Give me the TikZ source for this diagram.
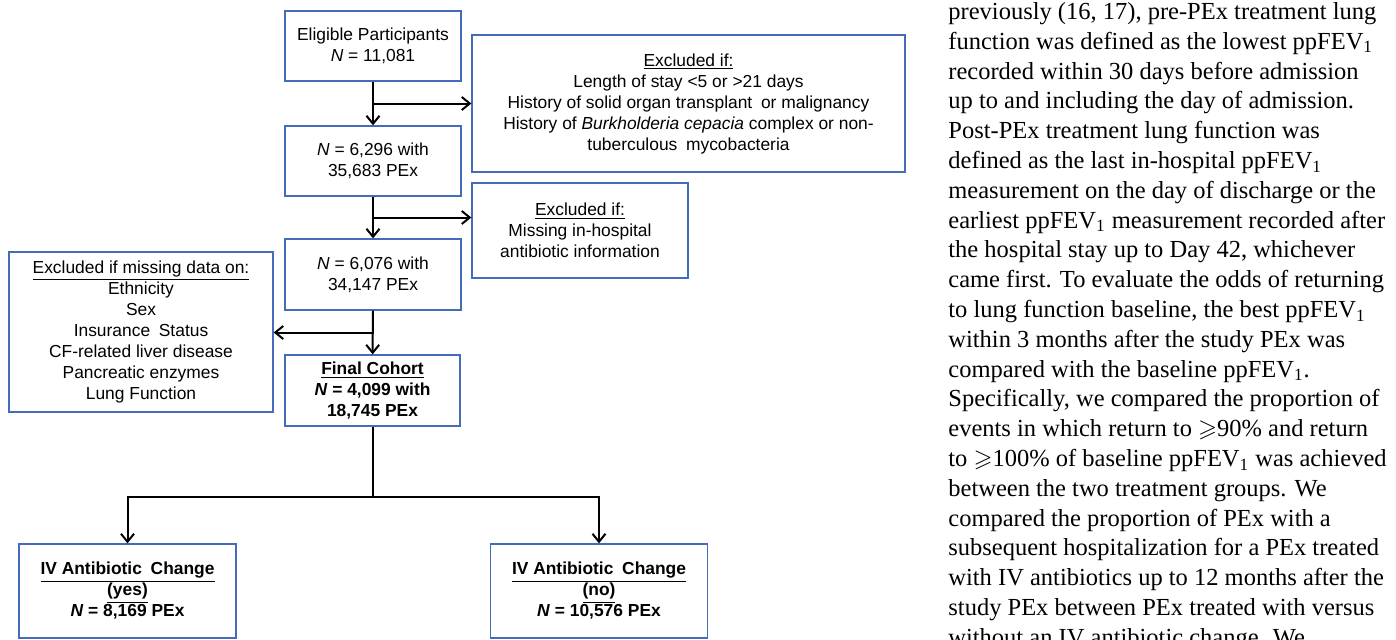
\documentclass[tikz,border=0pt]{standalone}
\usepackage{fontspec}
\setmainfont{Liberation Serif}
\setsansfont{Liberation Sans}
\usepackage{amssymb}
\usetikzlibrary{arrows.meta,positioning,calc}
\definecolor{boxblue}{RGB}{68,108,186}

\begin{document}
\begin{tikzpicture}[
  x=0.5pt, y=-0.5pt,
  box/.style={draw=boxblue, line width=0.65pt, align=center, inner sep=0pt, fill=white,
    font=\sffamily\fontsize{8.7}{10.5}\selectfont},
  boldbox/.style={box, font=\sffamily\bfseries\fontsize{8.7}{10.5}\selectfont},
  arrow/.style={-{Straight Barb[length=4pt,width=6.5pt]}, line width=1pt},
  link/.style={line width=1pt},
  body/.style={anchor=base west, inner sep=0pt, font=\fontsize{12.25}{14.9}\selectfont}
]
\useasboundingbox (0,0) rectangle (1396,639);

% main column
\node[box, minimum width=88pt, minimum height=35pt] (elig) at (373,46)
  {Eligible Participants\\\textit{N} = 11,081};
\node[box, minimum width=88pt, minimum height=35pt] (pex1) at (373,161)
  {\textit{N} = 6,296 with\\35,683 PEx};
\node[box, minimum width=88pt, minimum height=35.5pt] (pex2) at (373,274.5)
  {\textit{N} = 6,076 with\\34,147 PEx};
\node[boldbox, minimum width=87.5pt, minimum height=35.5pt] (final) at (372.5,390.5)
  {\underline{Final Cohort}\\\textit{N} = 4,099 with\\18,745 PEx};

% exclusions
\node[box, minimum width=216.5pt, minimum height=68.5pt] (excl1) at (688.5,103.5)
  {\underline{Excluded if:}\\Length of stay <5 or >21 days\\History of solid organ transplant\enspace or malignancy\\History of \textit{Burkholderia cepacia} complex or non-\\tuberculous\enspace mycobacteria};
\node[box, minimum width=108pt, minimum height=47.5pt] (excl2) at (580,230.5)
  {\underline{Excluded if:}\\Missing in-hospital\\antibiotic information};
\node[box, minimum width=132pt, minimum height=80pt] (excl3) at (141,332)
  {\underline{Excluded if missing data on:}\\Ethnicity\\Sex\\Insurance\enspace Status\\CF-related liver disease\\Pancreatic enzymes\\Lung Function};

% treatment groups
\node[boldbox, minimum width=108.5pt, minimum height=47pt] (yes) at (127.5,591)
  {\underline{IV Antibiotic\enspace Change}\\\underline{(yes)}\\\textit{N} = 8,169 PEx};
\node[boldbox, minimum width=108.5pt, minimum height=47pt] (no) at (599,591)
  {\underline{IV Antibiotic\enspace Change}\\\underline{(no)}\\\textit{N} = 10,576 PEx};

\coordinate (b1) at ($(elig.south)!0.5!(pex1.north)$);
\coordinate (b2) at ($(pex1.south)!0.5!(pex2.north)$);
\coordinate (b3) at ($(pex2.south)!0.5!(final.north)$);
\coordinate[below=35pt of final.south] (split);

\draw[arrow] (elig) -- (pex1);
\draw[arrow] (b1) -- (b1 -| excl1.west);
\draw[arrow] (pex1) -- (pex2);
\draw[arrow] (b2) -- (b2 -| excl2.west);
\draw[arrow] (pex2) -- (final);
\draw[arrow] (b3) -- (b3 -| excl3.east);
\draw[link] (final) -- (split);
\draw[arrow] (split) -| (yes);
\draw[arrow] (split) -| (no);

% running text
\foreach \txt [count=\i] in {
  {previously (16, 17), pre-PEx treatment lung},
  {function was defined as the lowest ppFEV\textsubscript{1}},
  {recorded within 30 days before admission},
  {up to and including the day of admission.},
  {Post-PEx treatment lung function was},
  {defined as the last in-hospital ppFEV\textsubscript{1}},
  {measurement on the day of discharge or the},
  {earliest ppFEV\textsubscript{1} measurement recorded after},
  {the hospital stay up to Day 42, whichever},
  {came first. To evaluate the odds of returning},
  {to lung function baseline, the best ppFEV\textsubscript{1}},
  {within 3 months after the study PEx was},
  {compared with the baseline ppFEV\textsubscript{1}.},
  {Specifically, we compared the proportion of},
  {events in which return to $\geqslant$90\% and return},
  {to $\geqslant$100\% of baseline ppFEV\textsubscript{1} was achieved},
  {between the two treatment groups. We},
  {compared the proportion of PEx with a},
  {subsequent hospitalization for a PEx treated},
  {with IV antibiotics up to 12 months after the},
  {study PEx between PEx treated with versus},
  {without an IV antibiotic change. We}}
  \node[body] (line\i) at (948,19.5+29.8*\i-29.8) {\txt};

\end{tikzpicture}
\end{document}
